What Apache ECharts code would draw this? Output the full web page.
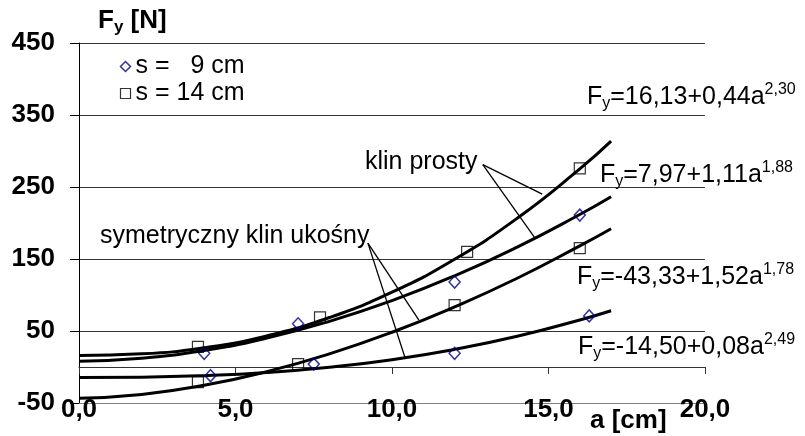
<!DOCTYPE html>
<html>
<head>
<meta charset="utf-8">
<script src="https://cdn.jsdelivr.net/npm/echarts@6/dist/echarts.min.js"></script>
<style>
  html, body { margin: 0; padding: 0; background: #fff; }
  #chart { width: 805px; height: 436px; }
</style>
</head>
<body>
<div id="chart"></div>
<script>
// fitted curves, sampled along a [cm]
var aFit = [0, 2, 4, 6, 8, 10, 12, 14, 16, 17];
var fitKlin14 = [16.1, 18.3, 26.8, 43.2, 68.7, 103.9, 149.7, 206.6, 275.1, 313.6];
var fitKlin9 = [8.0, 12.1, 23.0, 40.2, 63.4, 92.2, 126.6, 166.6, 211.8, 236.4];
var fitSym14 = [-43.3, -38.1, -25.4, -6.4, 18.2, 48.3, 83.5, 123.3, 168.3, 192.1];
var fitSym9 = [-14.5, -14.1, -12.0, -7.6, -0.3, 10.2, 24.5, 42.6, 65.3, 78.1];

// measured points [a, Fy]
var pts9 = [[4.0, 19], [7.0, 60], [12.0, 118], [16.0, 211], [4.2, -12], [7.5, 4], [12.0, 19], [16.3, 71]];
var pts14 = [[3.8, 28], [7.7, 69], [12.4, 160], [16.0, 276], [3.8, -21], [7.0, 4], [12.0, 86], [16.0, 165]];

var name9 = 's =   9 cm';
var name14 = 's = 14 cm';

var yTicks = [-50, 50, 150, 250, 350, 450];
var xTicks = [0, 5, 10, 15, 20];

// arrows (data coords): from label to curve
var arrowsKlin = [[[12.9, 281], [14.8, 240]], [[12.9, 281], [14.57, 179]]];
var arrowsSym = [[[9.23, 172], [10.86, 65]], [[9.23, 172], [10.42, 12.5]]];

var FONT = 'Liberation Sans, Arial, sans-serif';

function pairs(xs, ys) {
    return xs.map(function (x, i) { return [x, ys[i]]; });
}
function comma(v) {
    return v.toFixed(1).replace('.', ',');
}

var myChart = echarts.init(document.getElementById('chart'));

var lineBase = {
    type: 'line',
    smooth: true,
    showSymbol: false,
    symbol: 'none',
    silent: true,
    z: 2,
    lineStyle: { color: '#000', width: 3 }
};

var arrowLines = arrowsKlin.concat(arrowsSym).map(function (seg) {
    return [{ coord: seg[0] }, { coord: seg[1] }];
});

var rich = {
    m: { fontSize: 25, lineHeight: 30, fontFamily: FONT, color: '#000' },
    s: { fontSize: 16, lineHeight: 16, verticalAlign: 'bottom', fontFamily: FONT, color: '#000' },
    p: { fontSize: 16, lineHeight: 16, verticalAlign: 'top', fontFamily: FONT, color: '#000' }
};
var richBold = {
    m: { fontSize: 26, lineHeight: 30, fontWeight: 'bold', fontFamily: FONT, color: '#000' },
    s: { fontSize: 17, lineHeight: 16, verticalAlign: 'bottom', fontWeight: 'bold', fontFamily: FONT, color: '#000' }
};

function eq(x, y, c, e) {
    return {
        type: 'text', left: x, top: y - 15,
        style: { text: '{m|F}{s|y}{m|=' + c + 'a}{p|' + e + '}', rich: rich }
    };
}

// y = 0 sits at 43 + 450 * 360 / 500 = 367 px -> second grid ends there
option = {
    animation: false,
    backgroundColor: '#fff',
    grid: [
        { left: 79, right: 100, top: 43, bottom: 33, containLabel: false, outerBoundsMode: 'none' },
        { left: 79, right: 100, top: 43, bottom: 69, containLabel: false, outerBoundsMode: 'none' }
    ],
    legend: {
        orient: 'vertical',
        left: 113,
        top: 49,
        itemWidth: 10,
        itemHeight: 10,
        itemGap: 2,
        selectedMode: false,
        textStyle: { fontSize: 25, fontFamily: FONT, color: '#000' },
        data: [
            { name: name9, icon: 'diamond', itemStyle: { color: 'none', borderColor: '#000080', borderWidth: 1.5 } },
            { name: name14, icon: 'rect', itemStyle: { color: 'none', borderColor: '#000', borderWidth: 1.2 } }
        ]
    },
    xAxis: [
        {
            type: 'value', min: xTicks[0], max: xTicks[xTicks.length - 1], interval: 5,
            gridIndex: 0, position: 'bottom',
            axisLine: { onZero: false, lineStyle: { color: '#808080', width: 1 } },
            axisTick: { show: false },
            axisLabel: {
                margin: -6,
                fontSize: 26, fontWeight: 'bold', fontFamily: FONT, color: '#000',
                formatter: function (v) { return comma(v); }
            },
            splitLine: { show: false }
        },
        {
            // zero line with ticks
            type: 'value', min: xTicks[0], max: xTicks[xTicks.length - 1], interval: 5,
            gridIndex: 1, position: 'bottom',
            axisLine: { show: true, onZero: false, lineStyle: { color: '#333', width: 1 } },
            axisTick: { show: true, length: 7, lineStyle: { color: '#333' } },
            axisLabel: { show: false },
            splitLine: { show: false }
        }
    ],
    yAxis: [
        { type: 'value', gridIndex: 0, min: yTicks[0], max: yTicks[yTicks.length - 1], show: false },
        {
            // display axis, shifted by 50 so ticks fall on -50, 50, ... 450
            type: 'value', gridIndex: 0, min: 0, max: 500, interval: 100,
            position: 'left',
            axisLine: { show: true, onZero: false, lineStyle: { color: '#000', width: 1 } },
            axisTick: { show: true, length: 9, lineStyle: { color: '#000' } },
            axisLabel: {
                margin: 24,
                fontSize: 26, fontWeight: 'bold', fontFamily: FONT, color: '#000',
                formatter: function (v) { return String(v + yTicks[0]); }
            },
            splitLine: { show: true, showMinLine: false, lineStyle: { color: '#333', width: 1 } }
        },
        { type: 'value', gridIndex: 1, min: 0, max: 1, show: false }
    ],
    series: [
        Object.assign({}, lineBase, {
            name: 'fit14k', data: pairs(aFit, fitKlin14),
            markLine: {
                silent: true,
                symbol: ['none', 'arrow'],
                symbolSize: [0, 12],
                label: { show: false },
                lineStyle: { color: '#000', width: 1.3, type: 'solid' },
                data: arrowLines
            }
        }),
        Object.assign({}, lineBase, { name: 'fit9k', data: pairs(aFit, fitKlin9) }),
        Object.assign({}, lineBase, { name: 'fit14s', data: pairs(aFit, fitSym14) }),
        Object.assign({}, lineBase, { name: 'fit9s', data: pairs(aFit, fitSym9) }),
        {
            name: name9, type: 'scatter', data: pts9, z: 5,
            symbol: 'diamond', symbolSize: [11, 12],
            itemStyle: { color: 'none', borderColor: '#000080', borderWidth: 1.5 }
        },
        {
            name: name14, type: 'scatter', data: pts14, z: 5,
            symbol: 'rect', symbolSize: 11,
            itemStyle: { color: 'none', borderColor: '#000', borderWidth: 1.2 }
        }
    ],
    graphic: [
        { type: 'text', left: 98, top: 8, style: { text: '{m|F}{s|y}{m| [N]}', rich: richBold } },
        { type: 'text', left: 590, top: 408, style: { text: 'a [cm]', fontSize: 26, fontWeight: 'bold', fontFamily: FONT, fill: '#000' } },
        { type: 'text', left: 365, top: 150, style: { text: 'klin prosty', fontSize: 25, fontFamily: FONT, fill: '#000' } },
        { type: 'text', left: 100, top: 224, style: { text: 'symetryczny klin ukośny', fontSize: 25, fontFamily: FONT, fill: '#000' } },
        eq(587, 97, '16,13+0,44', '2,30'),
        eq(600, 175, '7,97+1,11', '1,88'),
        eq(577, 277, '-43,33+1,52', '1,78'),
        eq(578, 347, '-14,50+0,08', '2,49')
    ]
};
myChart.setOption(option);
</script>
</body>
</html>
